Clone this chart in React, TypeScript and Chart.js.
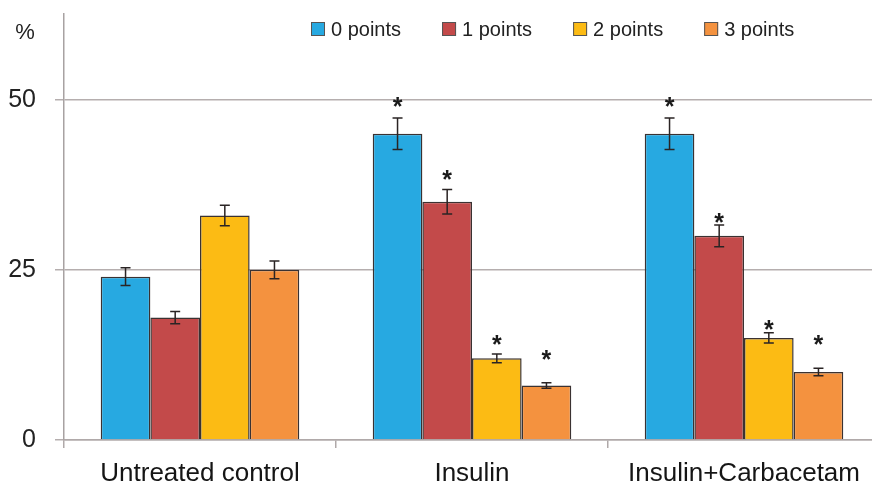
import React, { useEffect, useRef } from "react";
import { Chart, registerables } from "chart.js";

Chart.register(...registerables);

const categories = ["Untreated control", "Insulin", "Insulin+Carbacetam"];
const seriesLabels = ["0 points", "1 points", "2 points", "3 points"];
const points0 = [24, 45, 45];
const points1 = [18, 35, 30];
const points2 = [33, 12, 15];
const points3 = [25, 8, 10];
const err0 = [1.3, 2.3, 2.3];
const err1 = [0.9, 1.8, 1.6];
const err2 = [1.5, 0.65, 0.75];
const err3 = [1.3, 0.4, 0.55];
const star0 = [null, 49.6, 49.6];
const star1 = [null, 39.0, 32.6];
const star2 = [null, 14.7, 16.9];
const star3 = [null, 12.5, 14.7];
const yTicks = [0, 25, 50];
const yMax = 62.6;
const colors = ["#27A9E1", "#C34A4A", "#FCBB14", "#F4923F"];

const seriesValues = [points0, points1, points2, points3];
const seriesErrors = [err0, err1, err2, err3];
const seriesStars = [star0, star1, star2, star3];

const FONT = "Arial, 'Liberation Sans', sans-serif";

const overlayPlugin = {
  id: "overlay",
  afterDatasetsDraw(chart: any) {
    const ctx = chart.ctx;
    const y = chart.scales.y;
    ctx.save();
    // error bars
    chart.data.datasets.forEach((ds: any, di: number) => {
      const meta = chart.getDatasetMeta(di);
      meta.data.forEach((bar: any, i: number) => {
        const v = ds.data[i];
        const e = seriesErrors[di][i];
        const top = y.getPixelForValue(v + e);
        const bot = y.getPixelForValue(v - e);
        ctx.strokeStyle = "#2a2424";
        ctx.lineWidth = 1.5;
        ctx.beginPath();
        ctx.moveTo(bar.x, top);
        ctx.lineTo(bar.x, bot);
        ctx.moveTo(bar.x - 5, top);
        ctx.lineTo(bar.x + 5, top);
        ctx.moveTo(bar.x - 5, bot);
        ctx.lineTo(bar.x + 5, bot);
        ctx.stroke();
        const s = seriesStars[di][i];
        if (s != null) {
          ctx.font = `bold 25px ${FONT}`;
          ctx.fillStyle = "#1a1a1a";
          ctx.textAlign = "center";
          ctx.textBaseline = "alphabetic";
          const m = ctx.measureText("*");
          const cy = y.getPixelForValue(s);
          const base = cy + (m.actualBoundingBoxAscent - m.actualBoundingBoxDescent) / 2;
          ctx.fillText("*", bar.x, base);
        }
      });
    });
    // "%" label
    ctx.font = `22px ${FONT}`;
    ctx.fillStyle = "#222";
    ctx.textAlign = "center";
    ctx.textBaseline = "middle";
    ctx.fillText("%", 25, 33);
    // legend
    ctx.font = `20px ${FONT}`;
    let lx = 311;
    const ly = 29;
    chart.data.datasets.forEach((ds: any) => {
      ctx.fillStyle = ds.backgroundColor;
      ctx.fillRect(lx, ly - 7, 14, 14);
      ctx.strokeStyle = "#555";
      ctx.lineWidth = 1;
      ctx.strokeRect(lx + 0.5, ly - 6.5, 13, 13);
      ctx.fillStyle = "#222";
      ctx.textAlign = "left";
      ctx.textBaseline = "middle";
      ctx.fillText(ds.label, lx + 20, ly + 1);
      lx += 20 + ctx.measureText(ds.label).width + 41;
    });
    ctx.restore();
  },
};

export default function App() {
  const ref = useRef<HTMLCanvasElement>(null);
  useEffect(() => {
    if (!ref.current) return;
    const chart = new Chart(ref.current, {
      type: "bar",
      data: {
        labels: categories,
        datasets: seriesLabels.map((label, i) => ({
          label,
          data: seriesValues[i],
          backgroundColor: colors[i],
          borderColor: "#3a3232",
          borderWidth: 1.5,
          categoryPercentage: 0.73,
          barPercentage: 1,
        })),
      },
      options: {
        responsive: false,
        animation: false,
        layout: { padding: { top: 14, bottom: 0, left: 0, right: 0 } },
        plugins: {
          legend: { display: false },
          tooltip: { enabled: false },
        },
        scales: {
          x: {
            afterFit: (s: any) => {
              s.height = 45;
              s.paddingLeft = 0;
              s.paddingRight = 0;
            },
            grid: {
              offset: true,
              drawOnChartArea: false,
              drawTicks: true,
              tickLength: 8,
              color: "#b0a9a9",
              lineWidth: 1.5,
            },
            border: { display: true, color: "#b0a9a9", width: 1.5 },
            ticks: {
              color: "#151515",
              font: { size: 26, family: FONT },
              padding: 10,
            },
          },
          y: {
            min: 0,
            max: yMax,
            afterFit: (s: any) => {
              s.width = 64;
              s.paddingTop = 0;
              s.paddingBottom = 0;
            },
            afterBuildTicks: (s: any) => {
              s.ticks = yTicks.map((v) => ({ value: v }));
            },
            grid: {
              color: "#b5aeae",
              lineWidth: 1.5,
              tickLength: 9,
              drawTicks: true,
            },
            border: { display: true, color: "#a8a2a2", width: 1.5 },
            ticks: {
              color: "#222",
              font: { size: 25, family: FONT },
              padding: 19,
            },
          },
        },
      },
      plugins: [overlayPlugin],
    });
    return () => chart.destroy();
  }, []);
  return (
    <div
      style={{
        position: "fixed",
        left: 0,
        top: 0,
        width: 872,
        height: 485,
        overflow: "hidden",
        background: "#fff",
      }}
    >
      <canvas ref={ref} width={880} height={485} style={{ display: "block" }} />
    </div>
  );
}
